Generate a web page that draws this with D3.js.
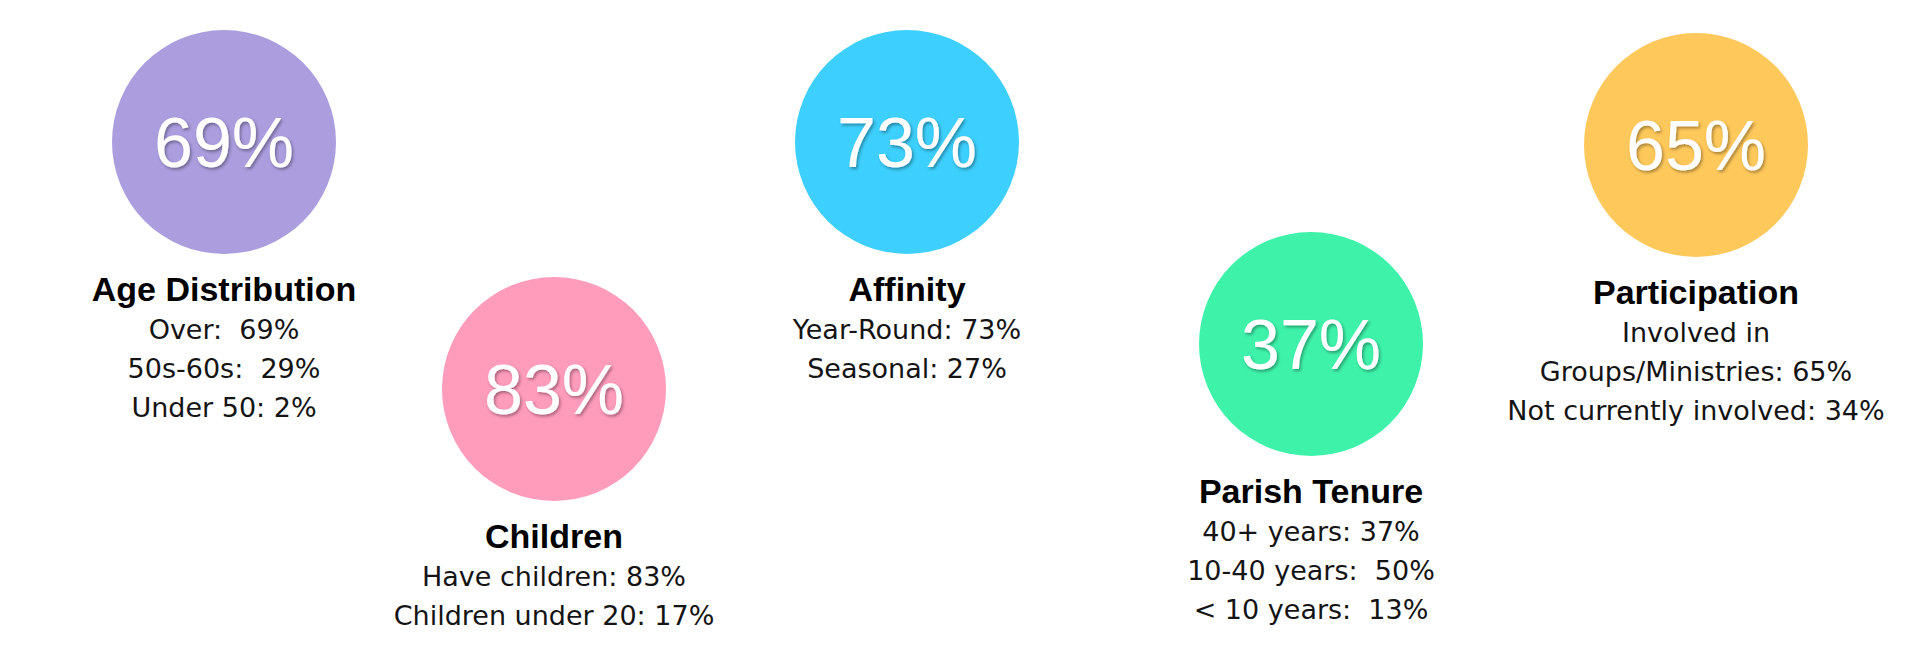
<!DOCTYPE html>
<html>
<head>
<meta charset="utf-8">
<script src="https://cdn.jsdelivr.net/npm/d3@7"></script>
<style>
  html, body { margin: 0; padding: 0; background: #fff; }
  svg { display: block; }
  .detail { white-space: pre; }
</style>
</head>
<body>
<div id="chart"></div>
<script>
// values
var categories = ['Age Distribution', 'Children', 'Affinity', 'Parish Tenure', 'Participation']
var headline = [69, 83, 73, 37, 65]
var details = [
  ['Over:  69%', '50s-60s:  29%', 'Under 50: 2%'],
  ['Have children: 83%', 'Children under 20: 17%'],
  ['Year-Round: 73%', 'Seasonal: 27%'],
  ['40+ years: 37%', '10-40 years:  50%', '< 10 years:  13%'],
  ['Involved in', 'Groups/Ministries: 65%', 'Not currently involved: 34%']
]
var colors = ['#ab9dde', '#ff9bbb', '#3dcffd', '#3ef2aa', '#ffc85a']

// layout
var width = 1920
var height = 657
var slotX = [224, 554, 907, 1311, 1696]
var slotY = [142, 389, 142, 344, 145]
var radius = 112

var x = d3.scaleOrdinal().domain(categories).range(slotX)
var y = d3.scaleOrdinal().domain(categories).range(slotY)
var color = d3.scaleOrdinal().domain(categories).range(colors)

var svg = d3.select('#chart').append('svg')
    .attr('width', width)
    .attr('height', height)

var defs = svg.append('defs')
defs.append('filter')
    .attr('id', 'shadow')
    .attr('x', '-20%').attr('y', '-20%')
    .attr('width', '140%').attr('height', '140%')
  .append('feDropShadow')
    .attr('dx', 1.5)
    .attr('dy', 2)
    .attr('stdDeviation', 1.5)
    .attr('flood-color', '#000')
    .attr('flood-opacity', 0.35)

var items = categories.map(function (c, i) {
  return {name: c, value: headline[i], lines: details[i]}
})

var group = svg.selectAll('.item')
    .data(items)
  .enter().append('g')
    .attr('class', 'item')
    .attr('transform', d => `translate(${x(d.name)},${y(d.name)})`)

group.append('circle')
    .attr('r', radius)
    .attr('fill', d => color(d.name))

// big percentage inside the circle
group.append('text')
    .text(d => d.value + '%')
    .attr('text-anchor', 'middle')
    .attr('dy', 25)
    .attr('font-family', '"Liberation Sans", Arial, sans-serif')
    .attr('font-size', '70px')
    .attr('fill', '#fff')
    .attr('filter', 'url(#shadow)')

group.append('text')
    .text(d => d.name)
    .attr('text-anchor', 'middle')
    .attr('y', 159)
    .attr('font-family', '"Liberation Sans", Arial, sans-serif')
    .attr('font-weight', 'bold')
    .attr('font-size', '34px')
    .attr('fill', '#000')

group.selectAll('.detail')
    .data(d => d.lines)
  .enter().append('text')
    .attr('class', 'detail')
    .text(d => d)
    .attr('text-anchor', 'middle')
    .attr('y', (d, i) => 197 + i * 39)
    .attr('font-family', '"DejaVu Sans", sans-serif')
    .attr('font-size', '27px')
    .attr('fill', '#141414')
</script>
</body>
</html>
